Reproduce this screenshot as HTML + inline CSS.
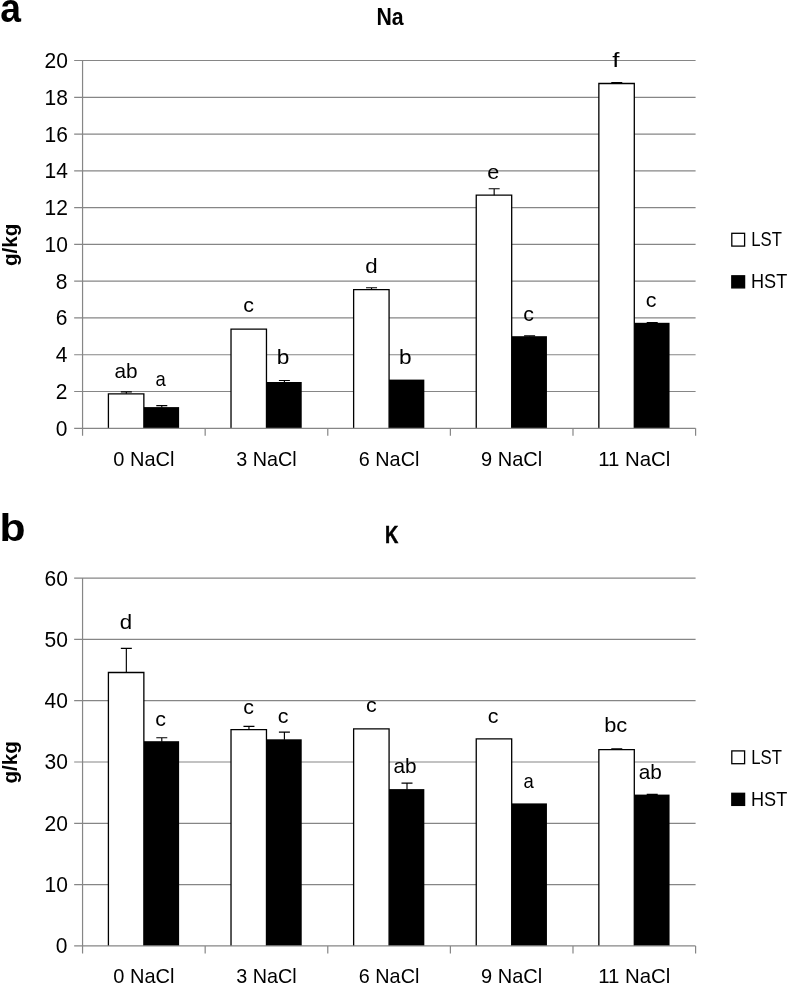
<!DOCTYPE html>
<html><head><meta charset="utf-8"><title>Na and K content</title>
<style>
html,body{margin:0;padding:0;background:#fff;}
svg{display:block;will-change:transform;}
text{font-family:"Liberation Sans",sans-serif;fill:#000;}
</style></head>
<body>
<svg width="788" height="984" viewBox="0 0 788 984">
<rect width="788" height="984" fill="#fff"/>
<text x="55.72" y="435.75" font-size="22" text-anchor="start" textLength="11.68" lengthAdjust="spacingAndGlyphs">0</text>
<line x1="74.16" y1="391.52" x2="695.60" y2="391.52" stroke="#868686" stroke-width="1.2"/>
<text x="55.72" y="398.97" font-size="22" text-anchor="start" textLength="11.68" lengthAdjust="spacingAndGlyphs">2</text>
<line x1="74.16" y1="354.74" x2="695.60" y2="354.74" stroke="#868686" stroke-width="1.2"/>
<text x="55.72" y="362.19" font-size="22" text-anchor="start" textLength="11.68" lengthAdjust="spacingAndGlyphs">4</text>
<line x1="74.16" y1="317.96" x2="695.60" y2="317.96" stroke="#868686" stroke-width="1.2"/>
<text x="55.72" y="325.41" font-size="22" text-anchor="start" textLength="11.68" lengthAdjust="spacingAndGlyphs">6</text>
<line x1="74.16" y1="281.18" x2="695.60" y2="281.18" stroke="#868686" stroke-width="1.2"/>
<text x="55.72" y="288.63" font-size="22" text-anchor="start" textLength="11.68" lengthAdjust="spacingAndGlyphs">8</text>
<line x1="74.16" y1="244.40" x2="695.60" y2="244.40" stroke="#868686" stroke-width="1.2"/>
<text x="44.55" y="251.85" font-size="22" text-anchor="start" textLength="23.35" lengthAdjust="spacingAndGlyphs">10</text>
<line x1="74.16" y1="207.62" x2="695.60" y2="207.62" stroke="#868686" stroke-width="1.2"/>
<text x="44.55" y="215.07" font-size="22" text-anchor="start" textLength="23.35" lengthAdjust="spacingAndGlyphs">12</text>
<line x1="74.16" y1="170.84" x2="695.60" y2="170.84" stroke="#868686" stroke-width="1.2"/>
<text x="44.55" y="178.29" font-size="22" text-anchor="start" textLength="23.35" lengthAdjust="spacingAndGlyphs">14</text>
<line x1="74.16" y1="134.06" x2="695.60" y2="134.06" stroke="#868686" stroke-width="1.2"/>
<text x="44.55" y="141.51" font-size="22" text-anchor="start" textLength="23.35" lengthAdjust="spacingAndGlyphs">16</text>
<line x1="74.16" y1="97.28" x2="695.60" y2="97.28" stroke="#868686" stroke-width="1.2"/>
<text x="44.55" y="104.73" font-size="22" text-anchor="start" textLength="23.35" lengthAdjust="spacingAndGlyphs">18</text>
<line x1="74.16" y1="60.50" x2="695.60" y2="60.50" stroke="#868686" stroke-width="1.2"/>
<text x="44.55" y="67.95" font-size="22" text-anchor="start" textLength="23.35" lengthAdjust="spacingAndGlyphs">20</text>
<rect x="143.56" y="407.10" width="35.55" height="21.20" fill="#000"/>
<path d="M108.41 428.30V393.80H143.86V428.30" fill="#fff" stroke="#000" stroke-width="1.3" stroke-linejoin="miter"/>
<path d="M126.34 393.80V391.80M120.84 391.80H131.84" stroke="#000" stroke-width="1.15" fill="none"/>
<path d="M161.79 407.60V405.60M156.29 405.60H167.29" stroke="#000" stroke-width="1.15" fill="none"/>
<text x="114.41" y="377.50" font-size="21" text-anchor="start" textLength="23.12" lengthAdjust="spacingAndGlyphs">ab</text>
<text x="155.41" y="386.30" font-size="21" text-anchor="start" textLength="10.27" lengthAdjust="spacingAndGlyphs">a</text>
<text x="113.26" y="465.60" font-size="21" text-anchor="start" textLength="61.20" lengthAdjust="spacingAndGlyphs">0 NaCl</text>
<rect x="266.17" y="382.00" width="35.55" height="46.30" fill="#000"/>
<path d="M231.02 428.30V329.10H266.47V428.30" fill="#fff" stroke="#000" stroke-width="1.3" stroke-linejoin="miter"/>
<path d="M284.40 382.50V380.50M278.90 380.50H289.90" stroke="#000" stroke-width="1.15" fill="none"/>
<text x="243.35" y="311.50" font-size="21" text-anchor="start" textLength="10.71" lengthAdjust="spacingAndGlyphs">c</text>
<text x="276.79" y="364.30" font-size="21" text-anchor="start" textLength="12.61" lengthAdjust="spacingAndGlyphs">b</text>
<text x="236.22" y="465.60" font-size="21" text-anchor="start" textLength="60.50" lengthAdjust="spacingAndGlyphs">3 NaCl</text>
<rect x="388.78" y="379.60" width="35.55" height="48.70" fill="#000"/>
<path d="M353.63 428.30V289.70H389.08V428.30" fill="#fff" stroke="#000" stroke-width="1.3" stroke-linejoin="miter"/>
<path d="M371.55 289.70V287.70M366.05 287.70H377.05" stroke="#000" stroke-width="1.15" fill="none"/>
<text x="365.22" y="272.90" font-size="21" text-anchor="start" textLength="12.38" lengthAdjust="spacingAndGlyphs">d</text>
<text x="399.14" y="363.50" font-size="21" text-anchor="start" textLength="12.61" lengthAdjust="spacingAndGlyphs">b</text>
<text x="358.83" y="465.60" font-size="21" text-anchor="start" textLength="60.50" lengthAdjust="spacingAndGlyphs">6 NaCl</text>
<rect x="511.39" y="336.20" width="35.55" height="92.10" fill="#000"/>
<path d="M476.24 428.30V195.20H511.69V428.30" fill="#fff" stroke="#000" stroke-width="1.3" stroke-linejoin="miter"/>
<path d="M494.16 195.20V188.70M488.66 188.70H499.66" stroke="#000" stroke-width="1.15" fill="none"/>
<path d="M529.61 336.70V335.90M524.11 335.90H535.11" stroke="#000" stroke-width="1.15" fill="none"/>
<text x="487.23" y="178.60" font-size="21" text-anchor="start" textLength="12.03" lengthAdjust="spacingAndGlyphs">e</text>
<text x="523.35" y="320.50" font-size="21" text-anchor="start" textLength="10.71" lengthAdjust="spacingAndGlyphs">c</text>
<text x="481.09" y="465.60" font-size="21" text-anchor="start" textLength="61.20" lengthAdjust="spacingAndGlyphs">9 NaCl</text>
<rect x="634.00" y="322.80" width="35.55" height="105.50" fill="#000"/>
<path d="M598.85 428.30V83.50H634.30V428.30" fill="#fff" stroke="#000" stroke-width="1.3" stroke-linejoin="miter"/>
<path d="M616.77 83.50V82.60M611.27 82.60H622.27" stroke="#000" stroke-width="1.15" fill="none"/>
<path d="M652.22 323.30V322.50M646.72 322.50H657.72" stroke="#000" stroke-width="1.15" fill="none"/>
<text x="612.28" y="67.40" font-size="21" text-anchor="start" textLength="7.24" lengthAdjust="spacingAndGlyphs">f</text>
<text x="645.80" y="307.20" font-size="21" text-anchor="start" textLength="10.71" lengthAdjust="spacingAndGlyphs">c</text>
<text x="598.20" y="465.60" font-size="21" text-anchor="start" textLength="72.20" lengthAdjust="spacingAndGlyphs">11 NaCl</text>
<line x1="74.16" y1="428.30" x2="695.60" y2="428.30" stroke="#868686" stroke-width="1.2"/>
<line x1="82.56" y1="60.50" x2="82.56" y2="435.80" stroke="#868686" stroke-width="1.2"/>
<line x1="205.17" y1="428.30" x2="205.17" y2="435.80" stroke="#868686" stroke-width="1.2"/>
<line x1="327.78" y1="428.30" x2="327.78" y2="435.80" stroke="#868686" stroke-width="1.2"/>
<line x1="450.38" y1="428.30" x2="450.38" y2="435.80" stroke="#868686" stroke-width="1.2"/>
<line x1="572.99" y1="428.30" x2="572.99" y2="435.80" stroke="#868686" stroke-width="1.2"/>
<line x1="695.60" y1="428.30" x2="695.60" y2="435.80" stroke="#868686" stroke-width="1.2"/>
<text x="376.50" y="24.90" font-size="23.3" text-anchor="start" font-weight="bold" textLength="27.20" lengthAdjust="spacingAndGlyphs">Na</text>
<text transform="translate(17.3 244.90) rotate(-90)" font-size="20.5" font-weight="bold" text-anchor="middle" textLength="42.3" lengthAdjust="spacingAndGlyphs">g/kg</text>
<rect x="731.8" y="233.30" width="12.8" height="12.8" fill="#fff" stroke="#000" stroke-width="1.3"/>
<text x="751.30" y="245.90" font-size="21" text-anchor="start" textLength="30.60" lengthAdjust="spacingAndGlyphs">LST</text>
<rect x="731.8" y="275.80" width="12.8" height="12.1" fill="#000" stroke="#000" stroke-width="1.3"/>
<text x="751.00" y="288.10" font-size="21" text-anchor="start" textLength="36.20" lengthAdjust="spacingAndGlyphs">HST</text>
<text x="55.72" y="953.35" font-size="22" text-anchor="start" textLength="11.68" lengthAdjust="spacingAndGlyphs">0</text>
<line x1="74.16" y1="884.60" x2="695.60" y2="884.60" stroke="#868686" stroke-width="1.2"/>
<text x="44.55" y="892.05" font-size="22" text-anchor="start" textLength="23.35" lengthAdjust="spacingAndGlyphs">10</text>
<line x1="74.16" y1="823.30" x2="695.60" y2="823.30" stroke="#868686" stroke-width="1.2"/>
<text x="44.55" y="830.75" font-size="22" text-anchor="start" textLength="23.35" lengthAdjust="spacingAndGlyphs">20</text>
<line x1="74.16" y1="762.00" x2="695.60" y2="762.00" stroke="#868686" stroke-width="1.2"/>
<text x="44.55" y="769.45" font-size="22" text-anchor="start" textLength="23.35" lengthAdjust="spacingAndGlyphs">30</text>
<line x1="74.16" y1="700.70" x2="695.60" y2="700.70" stroke="#868686" stroke-width="1.2"/>
<text x="44.55" y="708.15" font-size="22" text-anchor="start" textLength="23.35" lengthAdjust="spacingAndGlyphs">40</text>
<line x1="74.16" y1="639.40" x2="695.60" y2="639.40" stroke="#868686" stroke-width="1.2"/>
<text x="44.55" y="646.85" font-size="22" text-anchor="start" textLength="23.35" lengthAdjust="spacingAndGlyphs">50</text>
<line x1="74.16" y1="578.10" x2="695.60" y2="578.10" stroke="#868686" stroke-width="1.2"/>
<text x="44.55" y="585.55" font-size="22" text-anchor="start" textLength="23.35" lengthAdjust="spacingAndGlyphs">60</text>
<rect x="143.56" y="741.20" width="35.55" height="204.70" fill="#000"/>
<path d="M108.41 945.90V672.50H143.86V945.90" fill="#fff" stroke="#000" stroke-width="1.3" stroke-linejoin="miter"/>
<path d="M126.34 672.50V648.30M120.84 648.30H131.84" stroke="#000" stroke-width="1.15" fill="none"/>
<path d="M161.79 741.70V737.70M156.29 737.70H167.29" stroke="#000" stroke-width="1.15" fill="none"/>
<text x="119.67" y="629.40" font-size="21" text-anchor="start" textLength="12.38" lengthAdjust="spacingAndGlyphs">d</text>
<text x="155.30" y="725.50" font-size="21" text-anchor="start" textLength="10.71" lengthAdjust="spacingAndGlyphs">c</text>
<text x="113.26" y="983.20" font-size="21" text-anchor="start" textLength="61.20" lengthAdjust="spacingAndGlyphs">0 NaCl</text>
<rect x="266.17" y="739.30" width="35.55" height="206.60" fill="#000"/>
<path d="M231.02 945.90V729.60H266.47V945.90" fill="#fff" stroke="#000" stroke-width="1.3" stroke-linejoin="miter"/>
<path d="M248.95 729.60V726.40M243.45 726.40H254.45" stroke="#000" stroke-width="1.15" fill="none"/>
<path d="M284.40 739.80V732.10M278.90 732.10H289.90" stroke="#000" stroke-width="1.15" fill="none"/>
<text x="243.35" y="713.80" font-size="21" text-anchor="start" textLength="10.71" lengthAdjust="spacingAndGlyphs">c</text>
<text x="277.85" y="722.50" font-size="21" text-anchor="start" textLength="10.71" lengthAdjust="spacingAndGlyphs">c</text>
<text x="236.22" y="983.20" font-size="21" text-anchor="start" textLength="60.50" lengthAdjust="spacingAndGlyphs">3 NaCl</text>
<rect x="388.78" y="789.10" width="35.55" height="156.80" fill="#000"/>
<path d="M353.63 945.90V728.80H389.08V945.90" fill="#fff" stroke="#000" stroke-width="1.3" stroke-linejoin="miter"/>
<path d="M407.00 789.60V783.10M401.50 783.10H412.50" stroke="#000" stroke-width="1.15" fill="none"/>
<text x="366.05" y="711.50" font-size="21" text-anchor="start" textLength="10.71" lengthAdjust="spacingAndGlyphs">c</text>
<text x="393.51" y="773.40" font-size="21" text-anchor="start" textLength="23.12" lengthAdjust="spacingAndGlyphs">ab</text>
<text x="358.83" y="983.20" font-size="21" text-anchor="start" textLength="60.50" lengthAdjust="spacingAndGlyphs">6 NaCl</text>
<rect x="511.39" y="803.40" width="35.55" height="142.50" fill="#000"/>
<path d="M476.24 945.90V738.90H511.69V945.90" fill="#fff" stroke="#000" stroke-width="1.3" stroke-linejoin="miter"/>
<text x="487.70" y="722.60" font-size="21" text-anchor="start" textLength="10.71" lengthAdjust="spacingAndGlyphs">c</text>
<text x="523.46" y="787.60" font-size="21" text-anchor="start" textLength="10.27" lengthAdjust="spacingAndGlyphs">a</text>
<text x="481.09" y="983.20" font-size="21" text-anchor="start" textLength="61.20" lengthAdjust="spacingAndGlyphs">9 NaCl</text>
<rect x="634.00" y="794.60" width="35.55" height="151.30" fill="#000"/>
<path d="M598.85 945.90V749.60H634.30V945.90" fill="#fff" stroke="#000" stroke-width="1.3" stroke-linejoin="miter"/>
<path d="M616.77 749.60V748.80M611.27 748.80H622.27" stroke="#000" stroke-width="1.15" fill="none"/>
<path d="M652.22 795.10V794.30M646.72 794.30H657.72" stroke="#000" stroke-width="1.15" fill="none"/>
<text x="604.21" y="732.40" font-size="21" text-anchor="start" textLength="23.06" lengthAdjust="spacingAndGlyphs">bc</text>
<text x="638.81" y="779.10" font-size="21" text-anchor="start" textLength="23.12" lengthAdjust="spacingAndGlyphs">ab</text>
<text x="598.20" y="983.20" font-size="21" text-anchor="start" textLength="72.20" lengthAdjust="spacingAndGlyphs">11 NaCl</text>
<line x1="74.16" y1="945.90" x2="695.60" y2="945.90" stroke="#868686" stroke-width="1.2"/>
<line x1="82.56" y1="578.10" x2="82.56" y2="953.40" stroke="#868686" stroke-width="1.2"/>
<line x1="205.17" y1="945.90" x2="205.17" y2="953.40" stroke="#868686" stroke-width="1.2"/>
<line x1="327.78" y1="945.90" x2="327.78" y2="953.40" stroke="#868686" stroke-width="1.2"/>
<line x1="450.38" y1="945.90" x2="450.38" y2="953.40" stroke="#868686" stroke-width="1.2"/>
<line x1="572.99" y1="945.90" x2="572.99" y2="953.40" stroke="#868686" stroke-width="1.2"/>
<line x1="695.60" y1="945.90" x2="695.60" y2="953.40" stroke="#868686" stroke-width="1.2"/>
<text x="384.90" y="542.60" font-size="23.3" text-anchor="start" font-weight="bold" textLength="13.40" lengthAdjust="spacingAndGlyphs" stroke="#000" stroke-width="0.45">K</text>
<text transform="translate(17.3 762.30) rotate(-90)" font-size="20.5" font-weight="bold" text-anchor="middle" textLength="42.3" lengthAdjust="spacingAndGlyphs">g/kg</text>
<rect x="731.8" y="750.90" width="12.8" height="12.8" fill="#fff" stroke="#000" stroke-width="1.3"/>
<text x="751.30" y="763.50" font-size="21" text-anchor="start" textLength="30.60" lengthAdjust="spacingAndGlyphs">LST</text>
<rect x="731.8" y="793.30" width="12.8" height="12.1" fill="#000" stroke="#000" stroke-width="1.3"/>
<text x="751.00" y="805.60" font-size="21" text-anchor="start" textLength="36.20" lengthAdjust="spacingAndGlyphs">HST</text>
<text x="0.3" y="21.7" font-size="40" font-weight="bold" textLength="20.7" lengthAdjust="spacingAndGlyphs">a</text>
<text x="-0.55" y="541.2" font-size="38.5" font-weight="bold" textLength="26.07" lengthAdjust="spacingAndGlyphs">b</text>
</svg>
</body></html>
